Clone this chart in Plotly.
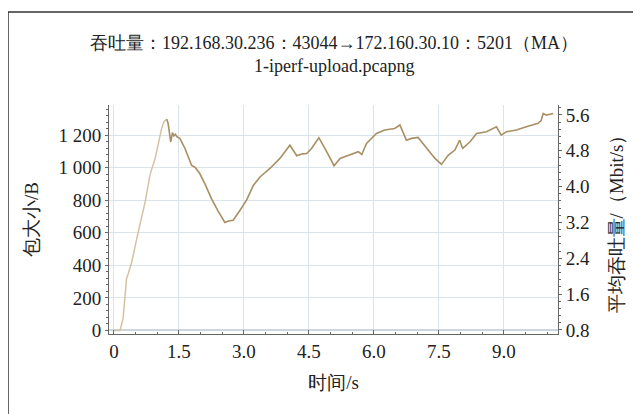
import plotly.graph_objects as go

# ---- data ----
time_s = [0, 0.14, 0.21, 0.29, 0.33, 0.36, 0.41, 0.56, 0.72, 0.83, 0.95, 1.10, 1.16, 1.22, 1.25,
          1.31, 1.35, 1.38, 1.42, 1.45, 1.52, 1.64, 1.79, 1.88, 1.98, 2.10, 2.25, 2.40, 2.56, 2.65,
          2.75, 2.91, 3.06, 3.22, 3.37, 3.60, 3.83, 4.06, 4.22, 4.35, 4.45, 4.56, 4.73, 4.91, 5.08,
          5.22, 5.35, 5.49, 5.64, 5.72, 5.83, 6.06, 6.25, 6.48, 6.60, 6.75, 6.87, 7.02, 7.22, 7.41,
          7.56, 7.72, 7.87, 7.98, 8.05, 8.22, 8.37, 8.60, 8.83, 8.94, 9.06, 9.29, 9.52, 9.79, 9.86,
          9.91, 9.98, 10.14]
packet_bytes = [0, 0, 74, 318, 350, 380, 420, 605, 790, 954, 1057, 1241, 1286, 1298, 1272,
                1159, 1215, 1195, 1205, 1190, 1180, 1118, 1015, 1000, 964, 900, 810, 735, 663, 672,
                677, 738, 800, 892, 943, 995, 1057, 1138, 1073, 1085, 1087, 1118, 1184, 1098, 1012,
                1057, 1070, 1081, 1098, 1081, 1149, 1210, 1231, 1241, 1262, 1169, 1180, 1186, 1118, 1057,
                1020, 1077, 1108, 1169, 1118, 1159, 1210, 1221, 1251, 1200, 1221, 1231, 1251, 1272, 1290,
                1333, 1323, 1333]
peak_index = 13  # colour changes after the first peak

x_tick_vals = [0, 1.5, 3.0, 4.5, 6.0, 7.5, 9.0]
x_tick_text = ["0", "1.5", "3.0", "4.5", "6.0", "7.5", "9.0"]
y_tick_vals = [0, 200, 400, 600, 800, 1000, 1200]
y_tick_text = ["0", "200", "400", "600", "800", "1 000", "1 200"]
y2_tick_vals = [0.8, 1.6, 2.4, 3.2, 4.0, 4.8, 5.6]
y2_tick_text = ["0.8", "1.6", "2.4", "3.2", "4.0", "4.8", "5.6"]

title_line1 = "吞吐量：192.168.30.236：43044→172.160.30.10：5201（MA）"
title_line2 = "1-iperf-upload.pcapng"

FAM = "Liberation Serif"
TXT = "#222222"
GRID = "#dbe4ea"
AXIS = "#666666"


def f(size):
    return dict(family=FAM, size=size, color=TXT)


fig = go.Figure()
fig.add_trace(go.Scatter(x=time_s[:peak_index + 1], y=packet_bytes[:peak_index + 1], mode="lines",
                         line=dict(color="#d3c3a2", width=1.5), showlegend=False))
fig.add_trace(go.Scatter(x=time_s[peak_index:], y=packet_bytes[peak_index:], mode="lines",
                         line=dict(color="#a88f64", width=1.6), showlegend=False))

fig.update_layout(
    width=641, height=414,
    margin=dict(l=101, r=91, t=97, b=88),
    paper_bgcolor="white", plot_bgcolor="white",
    font=f(19),
    showlegend=False,
    xaxis=dict(range=[-0.115, 10.25], tickvals=x_tick_vals, ticktext=x_tick_text,
               showgrid=True, gridcolor=GRID, gridwidth=1, zeroline=False,
               showline=True, linecolor=AXIS, linewidth=1,
               ticks="inside", ticklen=4, tickcolor=AXIS,
               minor=dict(ticks="inside", ticklen=2, dtick=0.5, tickcolor=AXIS, showgrid=False),
               tickfont=f(19), ticklabelstandoff=0,
               title=dict(text="时间/s", font=f(19), standoff=14)),
    yaxis=dict(range=[-22, 1385], tickvals=y_tick_vals, ticktext=y_tick_text,
               showgrid=True, gridcolor=GRID, gridwidth=1,
               zeroline=True, zerolinecolor="#cbd6de", zerolinewidth=1.5,
               showline=True, linecolor=AXIS, linewidth=1,
               ticks="outside", ticklen=3, tickcolor=AXIS,
               minor=dict(ticks="outside", ticklen=2, dtick=40, tickcolor=AXIS, showgrid=False),
               tickfont=f(19), ticklabelstandoff=0,
               title=dict(text="包大小/B", font=f(19), standoff=14)),
    yaxis2=dict(range=[0.71, 5.82], tickvals=y2_tick_vals, ticktext=y2_tick_text,
                overlaying="y", side="right", anchor="x",
                showgrid=False, zeroline=False,
                showline=True, linecolor=AXIS, linewidth=1,
                ticks="outside", ticklen=3, tickcolor=AXIS,
                minor=dict(ticks="outside", ticklen=2, dtick=0.16, tickcolor=AXIS),
                tickfont=f(19), ticklabelstandoff=0,
                title=dict(text="平均吞吐量/（Mbit/s）", font=f(19), standoff=20)),
)

# invisible trace so the right axis is drawn
fig.add_trace(go.Scatter(x=[time_s[0]], y=[y2_tick_vals[0]], yaxis="y2", mode="markers",
                         marker=dict(opacity=0), showlegend=False, hoverinfo="skip"))

fig.add_annotation(text=title_line1, xref="paper", yref="paper", x=0.5, y=1.0,
                   yshift=62, showarrow=False, font=f(18), xanchor="center", yanchor="middle")
fig.add_annotation(text=title_line2, xref="paper", yref="paper", x=0.5, y=1.0,
                   yshift=39, showarrow=False, font=f(18), xanchor="center", yanchor="middle")

# outer frame (left and top edges visible)
fig.add_shape(type="rect", xref="paper", yref="paper",
              x0=(8 - 109) / 449, x1=(660 - 109) / 449,
              y0=(334 - 440) / 229, y1=(334 - 12) / 229,
              line=dict(color="#333333", width=1.5), fillcolor="rgba(0,0,0,0)", layer="below")

# make sure every SVG text uses the serif face
post = """
(function(){
  var fix = function(){
    document.querySelectorAll('.main-svg text').forEach(function(t){
      t.style.fontFamily = 'Liberation Serif, serif';
    });
  };
  fix(); setTimeout(fix, 0); setTimeout(fix, 100); setTimeout(fix, 400);
  var gd = document.getElementById('{plot_id}');
  if (gd && gd.on) { gd.on('plotly_afterplot', fix); }
})();
"""

fig.write_html("out.html", post_script=post)
